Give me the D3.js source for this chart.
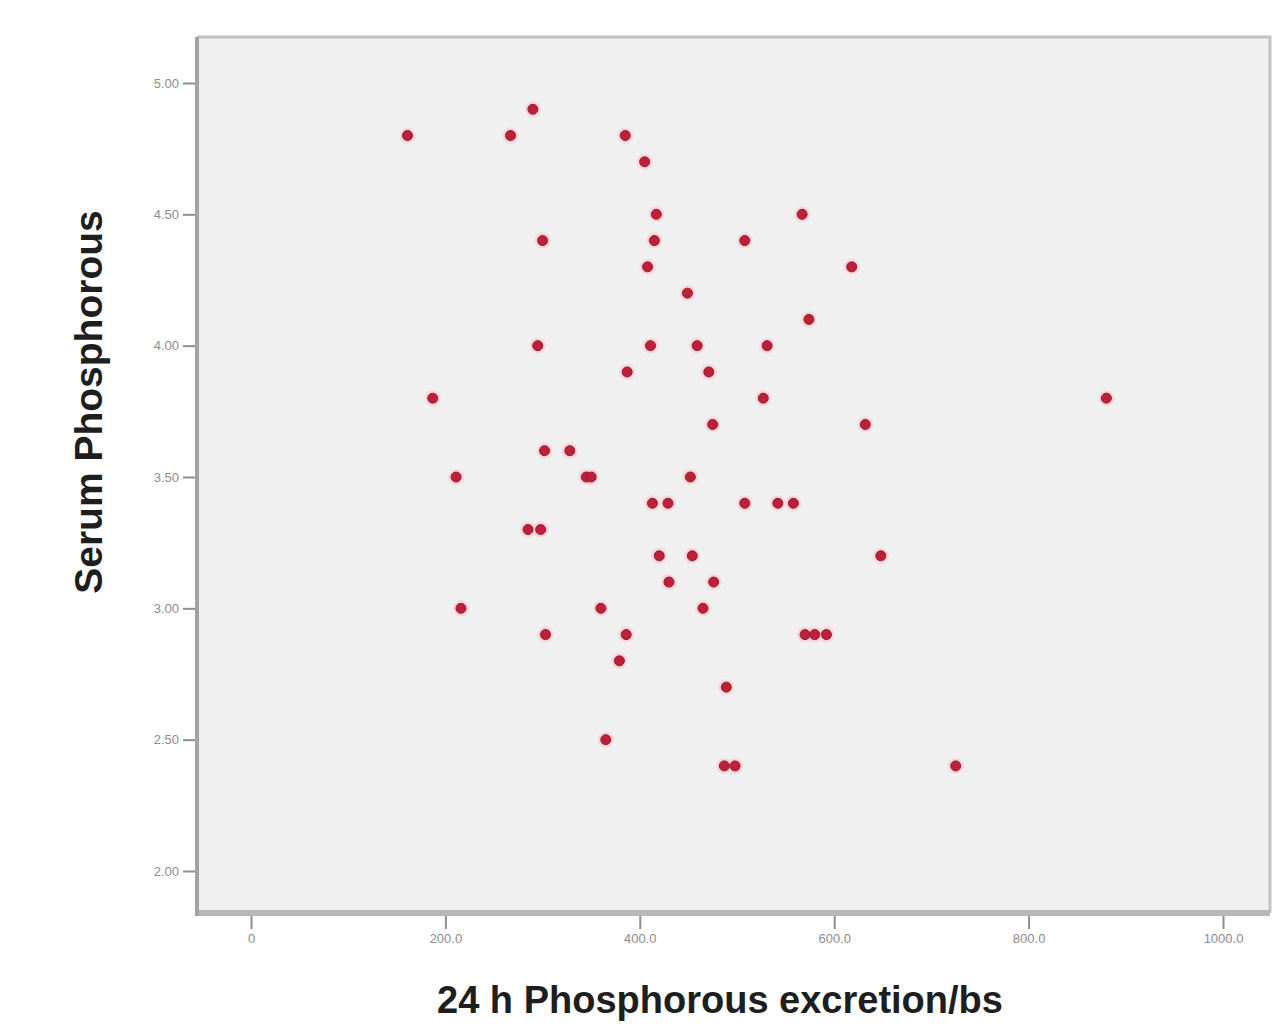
<!DOCTYPE html>
<html>
<head>
<meta charset="utf-8">
<script src="https://cdn.jsdelivr.net/npm/d3@7"></script>
<style>
  body { margin: 0; background: #fff; }
  svg { display: block; }
</style>
</head>
<body>
<div id="chart"></div>
<script>
// 24 h phosphorous excretion/bs vs serum phosphorous
var excretion = [161, 267, 290, 385, 405, 417, 300, 415, 408, 567,
                 508, 618, 449, 574, 295, 411, 459, 531, 387, 471,
                 187, 527, 880, 475, 632, 302, 328, 345, 350, 211,
                 452, 413, 429, 508, 542, 558, 285, 298, 420, 454,
                 648, 430, 476, 216, 360, 465, 303, 386, 570, 580,
                 592, 379, 489, 365, 487, 498, 725];
var serum = [4.8, 4.8, 4.9, 4.8, 4.7, 4.5, 4.4, 4.4, 4.3, 4.5,
             4.4, 4.3, 4.2, 4.1, 4.0, 4.0, 4.0, 4.0, 3.9, 3.9,
             3.8, 3.8, 3.8, 3.7, 3.7, 3.6, 3.6, 3.5, 3.5, 3.5,
             3.5, 3.4, 3.4, 3.4, 3.4, 3.4, 3.3, 3.3, 3.2, 3.2,
             3.2, 3.1, 3.1, 3.0, 3.0, 3.0, 2.9, 2.9, 2.9, 2.9,
             2.9, 2.8, 2.7, 2.5, 2.4, 2.4, 2.4];
var xTicks = [0, 200, 400, 600, 800, 1000];
var xTickLabels = ["0", "200.0", "400.0", "600.0", "800.0", "1000.0"];
var yTicks = [2.0, 2.5, 3.0, 3.5, 4.0, 4.5, 5.0];

var W = 1273, H = 1031;
var margin = {top: 37, right: 3, bottom: 118, left: 197},
    width = W - margin.left - margin.right,
    height = H - margin.top - margin.bottom;

var svg = d3.select("#chart")
    .append("svg")
    .attr("width", W)
    .attr("height", H);

var g = svg.append("g")
    .attr("transform", "translate(" + margin.left + "," + margin.top + ")");

var x = d3.scaleLinear().domain([0, 1000]).range([54, 1026]);
var y = d3.scaleLinear().domain([2, 5]).range([834, 46]);

// plot background
g.append("rect")
    .attr("width", width)
    .attr("height", height)
    .attr("fill", "#f0f0f0");

// light top / right frame
g.append("path")
    .attr("d", "M0,0H" + width + "V" + height)
    .attr("fill", "none")
    .attr("stroke", "#c2c2c2")
    .attr("stroke-width", 3);

var xAxis = g.append("g")
    .attr("transform", "translate(0," + height + ")")
    .call(d3.axisBottom(x).tickValues(xTicks)
        .tickFormat(function(d, i) { return xTickLabels[i]; })
        .tickSize(16).tickSizeOuter(0).tickPadding(5));

var yAxis = g.append("g")
    .call(d3.axisLeft(y).tickValues(yTicks)
        .tickFormat(d3.format(".2f"))
        .tickSize(14).tickSizeOuter(0).tickPadding(4));

xAxis.select(".domain").remove();
yAxis.select(".domain").remove();

[xAxis, yAxis].forEach(function(a) {
    a.selectAll(".tick line").attr("stroke", "#8f8f8f").attr("stroke-width", 2);
    a.selectAll(".tick text")
        .attr("fill", "#8c8c8c")
        .style("font-family", "'Liberation Sans', Arial, sans-serif")
        .style("font-size", "13px");
});

// heavier left and bottom axis lines
g.append("line")
    .attr("x1", 0).attr("x2", width)
    .attr("y1", height).attr("y2", height)
    .attr("stroke", "#b8b8b8")
    .attr("stroke-width", 6);
g.append("line")
    .attr("x1", 0).attr("x2", 0)
    .attr("y1", 0).attr("y2", height + 3)
    .attr("stroke", "#a3a3a3")
    .attr("stroke-width", 4);

// halo then dot, to get the soft look of the scan
var pts = excretion.map(function(v, i) { return [v, serum[i]]; });

g.selectAll("circle.halo")
    .data(pts)
    .enter()
    .append("circle")
    .attr("class", "halo")
    .attr("cx", function(d) { return x(d[0]); })
    .attr("cy", function(d) { return y(d[1]); })
    .attr("r", 8)
    .attr("fill", "#f7c9cf")
    .attr("opacity", 0.6);

g.selectAll("circle.dot")
    .data(pts)
    .enter()
    .append("circle")
    .attr("class", "dot")
    .attr("cx", function(d) { return x(d[0]); })
    .attr("cy", function(d) { return y(d[1]); })
    .attr("r", 5)
    .attr("fill", "#bf2039")
    .attr("stroke", "#9a1a30")
    .attr("stroke-width", 1);

// axis titles
svg.append("text")
    .attr("x", 720)
    .attr("y", 1013)
    .attr("text-anchor", "middle")
    .style("font-family", "'Liberation Sans', Arial, sans-serif")
    .style("font-weight", "bold")
    .style("font-size", "38px")
    .attr("fill", "#1e1e1e")
    .text("24 h Phosphorous excretion/bs");

svg.append("text")
    .attr("transform", "translate(102,402) rotate(-90)")
    .attr("text-anchor", "middle")
    .style("font-family", "'Liberation Sans', Arial, sans-serif")
    .style("font-weight", "bold")
    .style("font-size", "39px")
    .attr("fill", "#1e1e1e")
    .text("Serum Phosphorous");
</script>
</body>
</html>
